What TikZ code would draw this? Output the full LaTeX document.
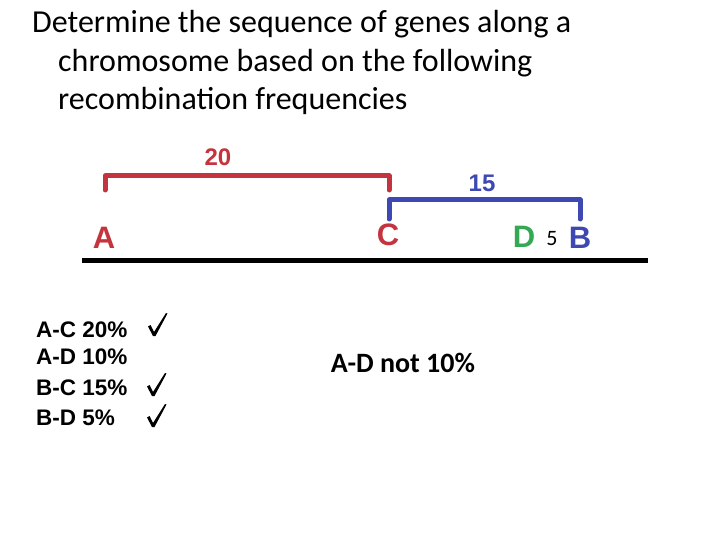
\documentclass[tikz,border=0pt]{standalone}
\usepackage{fontspec}
\setmainfont{Carlito}
\newfontfamily\arialb{Liberation Sans}
\definecolor{gred}{RGB}{196,52,62}
\definecolor{gblue}{RGB}{62,72,178}
\definecolor{ggreen}{RGB}{52,168,82}
\begin{document}
\begin{tikzpicture}[x=1pt,y=-1pt,
  title/.style={anchor=base west,inner sep=0pt,font=\fontsize{32}{36}\selectfont},
  gene/.style={inner sep=0pt,font=\arialb\bfseries\fontsize{31}{32}\selectfont},
  num/.style={inner sep=0pt,font=\arialb\bfseries\fontsize{24}{26}\selectfont},
  row/.style={anchor=west,inner sep=0pt,font=\arialb\bfseries\fontsize{22.5}{24}\selectfont},
  brk/.style={line width=5pt,line cap=round,line join=round},
  chk/.pic={\fill (-6,-9.5) -- (-3.5,-11) -- (0,-4) -- (12,-23) -- (13.5,-22.5) -- (1.5,0) -- (-1,0) -- cycle;}]
\useasboundingbox (0,0) rectangle (720,540);
\node[title] (t1) at (32,33) {Determine the sequence of genes along a};
\node[title] (t2) at (58,72) {chromosome based on the following};
\node[title] (t3) at (58,110) {recombination frequencies};
% brackets
\coordinate (r1) at (105,190); \coordinate (r2) at (389,190);
\draw[brk,gred] (r1) -- (105,176) -- (389,176) -- (r2);
\node[num,text=gred] (n20) at (218,157) {20};
\coordinate (b1) at (389,219); \coordinate (b2) at (580,219);
\draw[brk,gblue] (b1) -- (389,200) -- (580,200) -- (b2);
\node[num,text=gblue] (n15) at (482,183) {15};
% genes
\node[gene,text=gred] (A) at (104,238) {A};
\node[gene,text=gred] (C) at (388,235) {C};
\node[gene,text=ggreen] (D) at (524,237) {D};
\node[inner sep=0pt,font=\fontsize{22}{24}\selectfont] (five) at (552,239) {5};
\node[gene,text=gblue] (B) at (580,238) {B};
% chromosome
\coordinate (c1) at (82,260); \coordinate (c2) at (648,260);
\draw[line width=5pt] (c1) -- (c2);
% list
\node[row] (l1) at (36,330) {A-C 20\%};
\node[row] (l2) at (36,357) {A-D 10\%};
\node[row] (l3) at (36,388) {B-C 15\%};
\node[row] (l4) at (36,418) {B-D 5\%};
\pic at (154,336) {chk};
\pic at (153,396) {chk};
\pic at (153,427) {chk};
\node[inner sep=0pt,font=\bfseries\fontsize{28}{30}\selectfont] (note) at (403,363) {A-D not 10\%};
\end{tikzpicture}
\end{document}
